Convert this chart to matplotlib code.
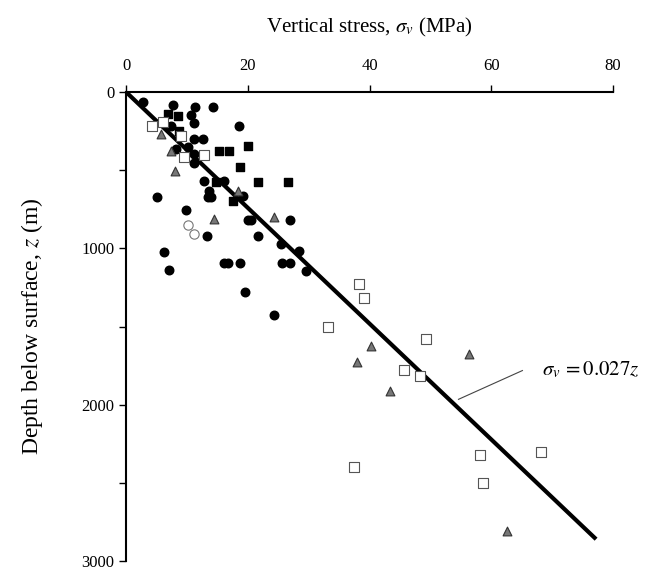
import numpy as np
import matplotlib
matplotlib.use('Agg')
from matplotlib import pyplot as plt

plt.rcParams['font.family'] = ['Liberation Serif', 'DejaVu Serif']
plt.rcParams['mathtext.fontset'] = 'stix'

# data: stress (MPa), depth (m)
black_circle_s = [2.8, 7.7, 11.3, 14.3, 10.7, 11.1, 7.4, 10.2, 8.2, 11.1, 12.6, 11.1, 11.1,
                  13.6, 13.4, 13.9, 16.1, 12.8, 19.2, 5.1, 9.8, 13.3, 21.6, 20.0, 20.5,
                  26.9, 25.4, 28.4, 6.2, 7.0, 16.1, 16.7, 18.7, 25.6, 26.9, 29.5, 19.5,
                  24.3, 18.5]
black_circle_z = [63, 81, 94, 94, 150, 200, 219, 350, 363, 300, 300, 394, 456,
                  631, 669, 669, 569, 569, 663, 669, 756, 919, 919, 819, 819,
                  819, 969, 1019, 1025, 1138, 1094, 1094, 1094, 1094, 1094, 1144, 1281,
                  1425, 219]

black_square_s = [6.9, 8.5, 8.7, 15.2, 16.9, 20.0, 18.7, 14.8, 21.6, 26.6, 17.5]
black_square_z = [138, 156, 250, 375, 375, 344, 481, 575, 575, 575, 700]

triangle_s = [5.7, 7.4, 8.0, 14.4, 18.4, 24.3, 40.2, 37.9, 43.3, 56.4, 62.6]
triangle_z = [269, 375, 506, 813, 631, 800, 1625, 1725, 1913, 1675, 2806]

open_square_s = [4.3, 6.1, 9.0, 9.5, 12.8, 38.2, 39.0, 33.1, 49.3, 45.6, 48.2,
                 37.4, 58.2, 58.7, 68.2]
open_square_z = [219, 194, 281, 413, 400, 1225, 1319, 1500, 1581, 1775, 1813,
                 2400, 2319, 2500, 2300]

open_circle_s = [10.2, 11.1]
open_circle_z = [850, 906]

# trend line sigma_v = 0.027 z
gradient = 0.027
z_line = np.array([0, 2850])
s_line = gradient * z_line

fig = plt.figure(figsize=(6.6, 5.75), dpi=100)
ax = fig.add_axes([0.191, 0.024, 0.738, 0.816])

ax.plot(s_line, z_line, color='black', linewidth=3, zorder=3)

ax.scatter(black_circle_s, black_circle_z, s=38, marker='o', color='black', zorder=4)
ax.scatter(black_square_s, black_square_z, s=36, marker='s', color='black', zorder=4)
ax.scatter(triangle_s, triangle_z, s=40, marker='^', facecolor='#777777',
           edgecolor='#333333', linewidth=0.8, zorder=4)
ax.scatter(open_square_s, open_square_z, s=45, marker='s', facecolor='white',
           edgecolor='#555555', linewidth=0.8, zorder=4)
ax.scatter(open_circle_s, open_circle_z, s=45, marker='o', facecolor='white',
           edgecolor='#777777', linewidth=0.8, zorder=4)

# leader line and equation label
ax.plot([54.6, 65.1], [1965, 1781], color='#444444', linewidth=0.8, zorder=2)
ax.text(68.3, 1775, r'$\sigma_v\, = 0.027z$', fontsize=15, va='center', ha='left')

ax.set_xlim(0, 80)
ax.set_ylim(3000, 0)
ax.xaxis.tick_top()
ax.xaxis.set_label_position('top')
ax.set_xticks([0, 20, 40, 60, 80])
ax.set_yticks([0, 500, 1000, 1500, 2000, 2500, 3000])
ax.set_yticklabels(['0', '', '1000', '', '2000', '', '3000'])
ax.tick_params(direction='out', length=5, width=1, labelsize=12)
ax.tick_params(axis='x', pad=8)

ax.spines['right'].set_visible(False)
ax.spines['bottom'].set_visible(False)
ax.spines['top'].set_linewidth(1.5)
ax.spines['left'].set_linewidth(1.5)

ax.set_xlabel(r'Vertical stress, $\sigma_v$ (MPa)', fontsize=15, labelpad=18)
ax.set_ylabel(r'Depth below surface, $z$ (m)', fontsize=17, labelpad=26)

plt.savefig('out.png', dpi=100)
